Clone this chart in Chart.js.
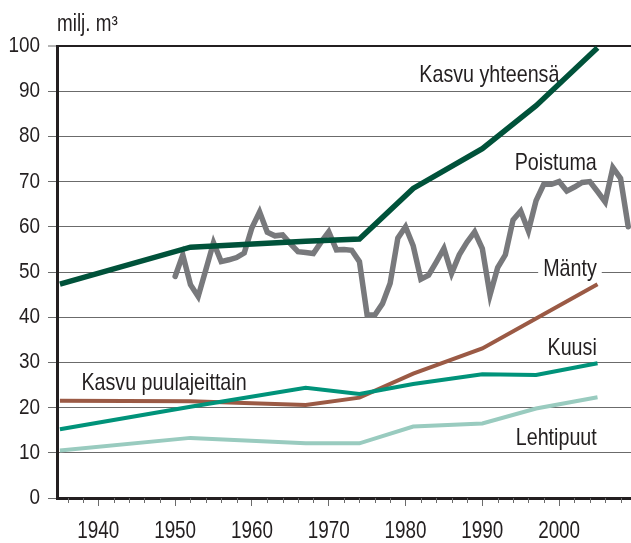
<!DOCTYPE html>
<html>
<head>
<meta charset="utf-8">
<script src="https://cdn.jsdelivr.net/npm/chart.js@4.4.1/dist/chart.umd.min.js"></script>
<style>
  html, body { margin: 0; padding: 0; background: #fff; }
  canvas { display: block; }
</style>
</head>
<body>
<canvas id="chart" width="631" height="543"></canvas>
<script>
// Forest inventory periods (growth by tree species and in total), million m3
const inventoryYears = [1935, 1952, 1967, 1974, 1981, 1990, 1997, 2005];
const kasvuYhteensa  = [47.3, 55.5, 56.8, 57.3, 68.5, 77.3, 86.8, 99.6];
const manty          = [21.5, 21.4, 20.6, 22.2, 27.5, 33.1, 39.7, 47.3];
const kuusi          = [15.2, 20.2, 24.4, 23.0, 25.2, 27.4, 27.2, 29.8];
const lehtipuut      = [10.5, 13.3, 12.1, 12.1, 15.8, 16.5, 19.8, 22.3];

// Annual drain (poistuma), million m3
const poistumaYears = [
  1950, 1951, 1952, 1953, 1954, 1955, 1956, 1957, 1958, 1959,
  1960, 1961, 1962, 1963, 1964, 1965, 1966, 1967, 1968, 1969,
  1970, 1971, 1972, 1973, 1974, 1975, 1976, 1977, 1978, 1979,
  1980, 1981, 1982, 1983, 1984, 1985, 1986, 1987, 1988, 1989,
  1990, 1991, 1992, 1993, 1994, 1995, 1996, 1997, 1998, 1999,
  2000, 2001, 2002, 2003, 2004, 2005, 2006, 2007, 2008, 2009
];
const poistuma = [
  49.0, 53.8, 47.2, 44.6, 50.5, 56.5, 52.3, 52.7, 53.2, 54.2,
  59.8, 63.3, 58.8, 58.0, 58.2, 56.3, 54.5, 54.3, 54.1, 56.6,
  58.9, 54.9, 55.0, 54.8, 52.3, 40.5, 40.5, 43.0, 47.5, 57.5,
  60.0, 55.8, 48.4, 49.3, 52.2, 55.2, 49.7, 53.8, 56.6, 58.9,
  55.2, 44.9, 51.0, 53.8, 61.5, 63.5, 59.1, 65.8, 69.4, 69.4,
  70.0, 67.9, 68.8, 69.8, 70.0, 67.8, 65.5, 73.1, 70.7, 60.0
];

const xTickYears = [1940, 1950, 1960, 1970, 1980, 1990, 2000];
const yTickValues = [0, 10, 20, 30, 40, 50, 60, 70, 80, 90, 100];

const FONT = "'Liberation Sans', Arial, sans-serif";
const NARROW = 0.82;           // horizontal squeeze for a condensed look
const TEXT = '#231f20';
const GRID = '#6b6b6b';

// In-chart series captions, anchored in data coordinates
const captions = [
  { text: 'Kasvu yhteensä',      x: 1981.8, y: 92.0, align: 'left'  },
  { text: 'Poistuma',            x: 2004.9, y: 72.6, align: 'right' },
  { text: 'Mänty',               x: 2004.9, y: 49.1, align: 'right' },
  { text: 'Kuusi',               x: 2004.9, y: 31.6, align: 'right' },
  { text: 'Kasvu puulajeittain', x: 1937.8, y: 23.9, align: 'left'  },
  { text: 'Lehtipuut',           x: 2004.9, y: 11.7, align: 'right' }
];

function pairs(xs, ys) {
  return xs.map((x, i) => ({ x: x, y: ys[i] }));
}

// draws condensed text; returns its drawn width
function narrowText(ctx, text, px, py, size, align, baseline, squeeze) {
  ctx.save();
  ctx.font = size + 'px ' + FONT;
  ctx.textAlign = align;
  ctx.textBaseline = baseline;
  ctx.translate(px, py);
  ctx.scale(squeeze, 1);
  ctx.fillText(text, 0, 0);
  ctx.restore();
}

const decorations = {
  id: 'decorations',
  beforeDatasetsDraw(chart) {
    const { ctx, scales: { x, y } } = chart;
    ctx.save();
    captions.forEach(c => {
      const px = x.getPixelForValue(c.x);
      const py = y.getPixelForValue(c.y);
      ctx.font = '24px ' + FONT;
      const w = ctx.measureText(c.text).width * NARROW;
      const left = c.align === 'right' ? px - w : px;
      ctx.fillStyle = '#fff';
      ctx.fillRect(left - 5, py - 19, w + 10, 24);
      ctx.fillStyle = TEXT;
      narrowText(ctx, c.text, left, py, 24, 'left', 'alphabetic', NARROW);
    });
    ctx.restore();
  },
  afterDraw(chart) {
    const { ctx, chartArea, scales: { x, y } } = chart;
    ctx.save();
    // minor ticks every two years
    ctx.strokeStyle = GRID;
    ctx.lineWidth = 1;
    ctx.beginPath();
    for (let yr = 1936; yr <= 2008; yr += 2) {
      if (yr % 10 === 0) continue;
      const px = Math.round(x.getPixelForValue(yr)) + 0.5;
      ctx.moveTo(px, chartArea.bottom);
      ctx.lineTo(px, chartArea.bottom + 5);
    }
    ctx.stroke();
    ctx.fillStyle = TEXT;
    // year labels
    xTickYears.forEach(v => {
      narrowText(ctx, String(v), x.getPixelForValue(v), chartArea.bottom + 40, 23, 'center', 'alphabetic', NARROW);
    });
    // value labels
    yTickValues.forEach(v => {
      narrowText(ctx, String(v), chartArea.left - 17, y.getPixelForValue(v), 22, 'right', 'middle', 0.86);
    });
    // unit title
    narrowText(ctx, 'milj. m³', chartArea.left, 31, 23, 'left', 'alphabetic', NARROW);
    ctx.restore();
  }
};

new Chart(document.getElementById('chart'), {
  type: 'line',
  data: {
    datasets: [
      { label: 'Kasvu yhteensä', data: pairs(inventoryYears, kasvuYhteensa), borderColor: '#00523a', borderWidth: 5.5 },
      { label: 'Poistuma', data: pairs(poistumaYears, poistuma), borderColor: '#78797c', borderWidth: 5.5, borderCapStyle: 'round' },
      { label: 'Kuusi', data: pairs(inventoryYears, kuusi), borderColor: '#00937a', borderWidth: 4 },
      { label: 'Lehtipuut', data: pairs(inventoryYears, lehtipuut), borderColor: '#99cbbf', borderWidth: 4 },
      { label: 'Mänty', data: pairs(inventoryYears, manty), borderColor: '#9b5a45', borderWidth: 4 }
    ]
  },
  options: {
    responsive: false,
    animation: false,
    devicePixelRatio: 1,
    layout: { padding: { top: 46, right: 0, left: 0, bottom: 0 } },
    elements: { point: { radius: 0 }, line: { tension: 0, fill: false } },
    plugins: { legend: { display: false }, tooltip: { enabled: false } },
    scales: {
      x: {
        type: 'linear',
        min: 1934.62,
        max: 2009.36,
        afterFit(s) { s.height = 45; },
        afterBuildTicks(s) { s.ticks = xTickYears.map(v => ({ value: v })); },
        ticks: { display: false },
        grid: { drawOnChartArea: false, drawTicks: true, tickLength: 8, tickColor: GRID, tickWidth: 1 },
        border: { color: TEXT, width: 3 }
      },
      y: {
        min: 0,
        max: 100,
        afterFit(s) { s.width = 57; },
        afterBuildTicks(s) { s.ticks = yTickValues.map(v => ({ value: v })); },
        ticks: { display: false },
        grid: {
          color: c => (c.tick && c.tick.value === 100) ? TEXT : GRID,
          lineWidth: c => (c.tick && c.tick.value === 100) ? 2 : 1,
          drawTicks: true, tickLength: 9, tickColor: GRID, tickWidth: 1
        },
        border: { color: TEXT, width: 3 }
      }
    }
  },
  plugins: [decorations]
});
</script>
</body>
</html>
